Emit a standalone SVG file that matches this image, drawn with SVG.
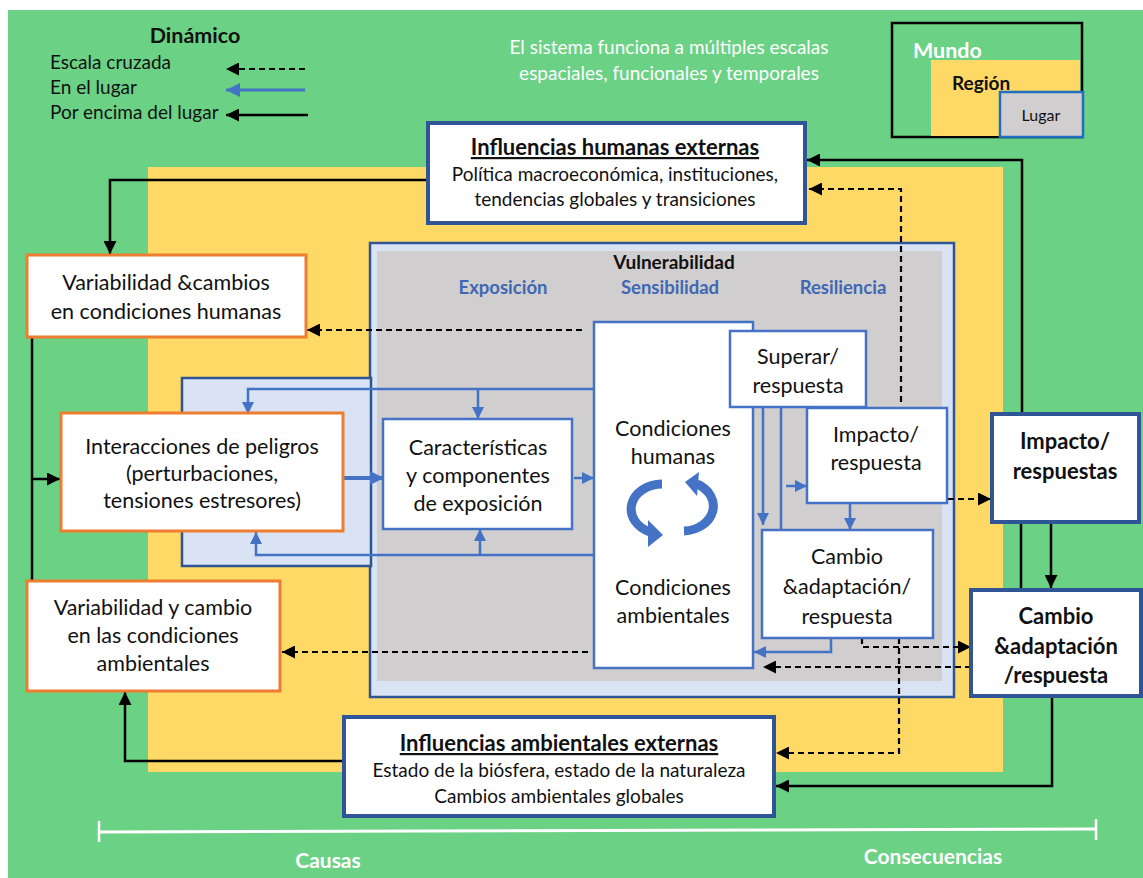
<svg xmlns="http://www.w3.org/2000/svg" width="1143" height="878" viewBox="0 0 1143 878">
<style>
text{font-family:Lato,"Open Sans","DejaVu Sans",sans-serif;fill:#111;}
.t{font-size:21.5px;text-anchor:middle;}
.tb{font-size:22px;font-weight:bold;text-anchor:middle;}
.s{font-size:19px;text-anchor:middle;}
.lg{font-size:19px;}
.bl{font-size:18.5px;font-weight:bold;text-anchor:middle;fill:#4067b3;}
.w{fill:#fff;}
.obox{fill:#fff;stroke:#ed7d31;stroke-width:3;}
.bbox{fill:#fff;stroke:#4472c4;stroke-width:2.5;}
.dbox{fill:#fff;stroke:#2f5597;stroke-width:4;}
.k{fill:none;stroke:#000;stroke-width:2.5;}
.kd{fill:none;stroke:#000;stroke-width:2.2;stroke-dasharray:6 4;}
.b{fill:none;stroke:#4472c4;stroke-width:2.5;}
</style>
<defs>
<marker id="ak" viewBox="0 0 12 12" refX="12" refY="6" markerWidth="14" markerHeight="13" markerUnits="userSpaceOnUse" orient="auto"><path d="M0,0 L12,6 L0,12 z" fill="#000"/></marker>
<marker id="ab" viewBox="0 0 12 12" refX="12" refY="6" markerWidth="12" markerHeight="12" markerUnits="userSpaceOnUse" orient="auto"><path d="M0,0 L12,6 L0,12 z" fill="#4472c4"/></marker>
<marker id="abl" viewBox="0 0 12 12" refX="12" refY="6" markerWidth="16" markerHeight="14" markerUnits="userSpaceOnUse" orient="auto"><path d="M0,0 L12,6 L0,12 z" fill="#4472c4"/></marker>
</defs>
<rect x="0" y="0" width="1143" height="878" fill="#fff"/>
<rect x="8" y="10" width="1135" height="868" fill="#6bd185"/>
<rect x="148" y="167" width="855" height="605" fill="#ffd966"/>

<g id="legend">
<text x="195" y="43" style="font-size:21.5px;font-weight:bold;text-anchor:middle">Dinámico</text>
<text class="lg" x="50" y="69">Escala cruzada</text>
<text class="lg" x="50" y="94">En el lugar</text>
<text class="lg" x="50" y="119">Por encima del lugar</text>
<path class="kd" d="M305,69 H226" marker-end="url(#ak)"/>
<path d="M305,90 H226" stroke="#4472c4" stroke-width="3" fill="none" marker-end="url(#abl)"/>
<path class="k" d="M308,115 H226" marker-end="url(#ak)"/>
</g>

<g id="scale-note">
<text class="s w" x="669" y="54">El sistema funciona a múltiples escalas</text>
<text class="s w" x="669" y="80">espaciales, funcionales y temporales</text>
</g>

<g id="scales-legend">
<rect x="892" y="23" width="190" height="114" fill="none" stroke="#000" stroke-width="2.5"/>
<rect x="931" y="60" width="149" height="76" fill="#ffd966"/>
<rect x="1000" y="92" width="83" height="45" fill="#d0cece" stroke="#1f6fc0" stroke-width="2.5"/>
<text x="913" y="58" style="font-size:21.5px;font-weight:bold;fill:#fff">Mundo</text>
<text x="952" y="90" style="font-size:19px;font-weight:bold">Región</text>
<text x="1041" y="121" style="font-size:16px;text-anchor:middle">Lugar</text>
</g>

<g id="vulnerabilidad">
<rect x="370" y="243" width="584" height="454" fill="#dae3f3" stroke="#2f5597" stroke-width="2.5"/>
<rect x="377" y="251" width="565" height="430" fill="#d0cece"/>
<text x="674" y="269" style="font-size:19px;font-weight:bold;text-anchor:middle">Vulnerabilidad</text>
<text class="bl" x="503" y="294">Exposición</text>
<text class="bl" x="670" y="294">Sensibilidad</text>
<text class="bl" x="843" y="294">Resiliencia</text>
</g>

<g id="peligros-zona">
<rect x="182" y="378" width="189" height="188" fill="#dae3f3" stroke="#2f5597" stroke-width="2.5"/>
</g>

<g id="connectors">
<path class="k" d="M1022,413 V160 H807" marker-end="url(#ak)"/>
<path class="k" d="M428,180 H110 V254" marker-end="url(#ak)"/>
<path class="k" d="M32,337 V581"/>
<path class="k" d="M32,479 H60" marker-end="url(#ak)"/>
<path class="k" d="M343,761 H125 V692" marker-end="url(#ak)"/>
<path class="k" d="M1021,523 V589"/>
<path class="k" d="M1051,523 V588" marker-end="url(#ak)"/>
<path class="k" d="M1052,697 V786 H776" marker-end="url(#ak)"/>
<path class="kd" d="M582,330 H307" marker-end="url(#ak)"/>
<path class="kd" d="M588,652 H282" marker-end="url(#ak)"/>
<path class="kd" d="M901,402 V189 H809" marker-end="url(#ak)"/>
<path class="kd" d="M948,499 H991" marker-end="url(#ak)"/>
<path class="kd" d="M862,638 V647 H971" marker-end="url(#ak)"/>
<path class="kd" d="M971,667 H763" marker-end="url(#ak)"/>
<path class="kd" d="M899,638 V753 H776" marker-end="url(#ak)"/>
<path d="M343,478 H384" fill="none" stroke="#4472c4" stroke-width="4" marker-end="url(#abl)"/>
<path class="b" d="M574,478 H594" marker-end="url(#ab)"/>
<path class="b" d="M594,389 H248 V414" marker-end="url(#ab)"/>
<path class="b" d="M478,389 V419" marker-end="url(#ab)"/>
<path class="b" d="M594,555 H256 V532" marker-end="url(#ab)"/>
<path class="b" d="M480,555 V529" marker-end="url(#ab)"/>
<path class="b" d="M763,407 V525" marker-end="url(#ab)"/>
<path class="b" d="M781,407 V530"/>
<path class="b" d="M786,486 H807" marker-end="url(#ab)"/>
<path class="b" d="M850,503 V530" marker-end="url(#ab)"/>
<path class="b" d="M831,638 V652 H754" marker-end="url(#ab)"/>
</g>

<g id="influencias-humanas">
<rect class="dbox" x="428" y="123" width="377" height="100"/>
<text class="tb" x="615" y="155" text-decoration="underline">Influencias humanas externas</text>
<text class="s" x="615" y="181">Política macroeconómica, instituciones,</text>
<text class="s" x="615" y="206">tendencias globales y transiciones</text>
</g>

<g id="var-humanas">
<rect class="obox" x="27" y="255" width="279" height="82"/>
<text class="t" x="166" y="290">Variabilidad &amp;cambios</text>
<text class="t" x="166" y="319">en condiciones humanas</text>
</g>

<g id="interacciones">
<rect class="obox" x="61" y="413" width="282" height="118"/>
<text class="t" x="202" y="454">Interacciones de peligros</text>
<text class="t" x="202" y="481">(perturbaciones,</text>
<text class="t" x="202" y="508">tensiones estresores)</text>
</g>

<g id="var-ambientales">
<rect class="obox" x="27" y="581" width="253" height="110"/>
<text class="t" x="153" y="615">Variabilidad y cambio</text>
<text class="t" x="153" y="643">en las condiciones</text>
<text class="t" x="153" y="671">ambientales</text>
</g>

<g id="caracteristicas">
<rect class="bbox" x="383" y="419" width="189" height="110"/>
<text class="t" x="478" y="455">Características</text>
<text class="t" x="478" y="483">y componentes</text>
<text class="t" x="478" y="511">de exposición</text>
</g>

<g id="condiciones">
<rect class="bbox" x="594" y="322" width="159" height="346"/>
<text class="t" x="673" y="436">Condiciones</text>
<text class="t" x="673" y="464">humanas</text>
<text class="t" x="673" y="595">Condiciones</text>
<text class="t" x="673" y="623">ambientales</text>
<path d="M662,484 A31,25 0 0 0 650,532" fill="none" stroke="#4472c4" stroke-width="9"/>
<polygon points="648,520 663,535 648,547" fill="#4472c4"/>
<path d="M684,531 A31,25 0 0 0 697,484" fill="none" stroke="#4472c4" stroke-width="9"/>
<polygon points="699,472 685,482 697,496" fill="#4472c4"/>
</g>

<g id="superar">
<rect class="bbox" x="730" y="331" width="136" height="76"/>
<text class="t" x="798" y="364">Superar/</text>
<text class="t" x="798" y="393">respuesta</text>
</g>

<g id="impacto">
<rect class="bbox" x="807" y="408" width="140" height="95"/>
<text class="t" x="876" y="442">Impacto/</text>
<text class="t" x="876" y="470">respuesta</text>
</g>

<g id="cambio">
<rect class="bbox" x="762" y="530" width="171" height="108"/>
<text class="t" x="847" y="564">Cambio</text>
<text class="t" x="847" y="594">&amp;adaptación/</text>
<text class="t" x="847" y="624">respuesta</text>
</g>

<g id="impacto-respuestas">
<rect class="dbox" x="992" y="414" width="147" height="108"/>
<text class="tb" x="1065" y="449">Impacto/</text>
<text class="tb" x="1065" y="479">respuestas</text>
</g>

<g id="cambio-adaptacion">
<rect class="dbox" x="971" y="590" width="170" height="106"/>
<text class="tb" x="1056" y="624">Cambio</text>
<text class="tb" x="1056" y="654">&amp;adaptación</text>
<text class="tb" x="1056" y="683">/respuesta</text>
</g>

<g id="influencias-ambientales">
<rect class="dbox" x="344" y="717" width="430" height="99"/>
<text class="tb" x="559" y="751" text-decoration="underline">Influencias ambientales externas</text>
<text class="s" x="559" y="777">Estado de la biósfera, estado de la naturaleza</text>
<text class="s" x="559" y="803">Cambios ambientales globales</text>
</g>

<g id="eje">
<path d="M99,832 L1096,829" stroke="#fff" stroke-width="3" fill="none"/>
<path d="M99,821 V842 M1096,819 V840" stroke="#fff" stroke-width="2.5" fill="none"/>
<text x="328" y="868" style="font-size:21px;font-weight:bold;text-anchor:middle;fill:#fff">Causas</text>
<text x="933" y="864" style="font-size:21px;font-weight:bold;text-anchor:middle;fill:#fff">Consecuencias</text>
</g>
</svg>
